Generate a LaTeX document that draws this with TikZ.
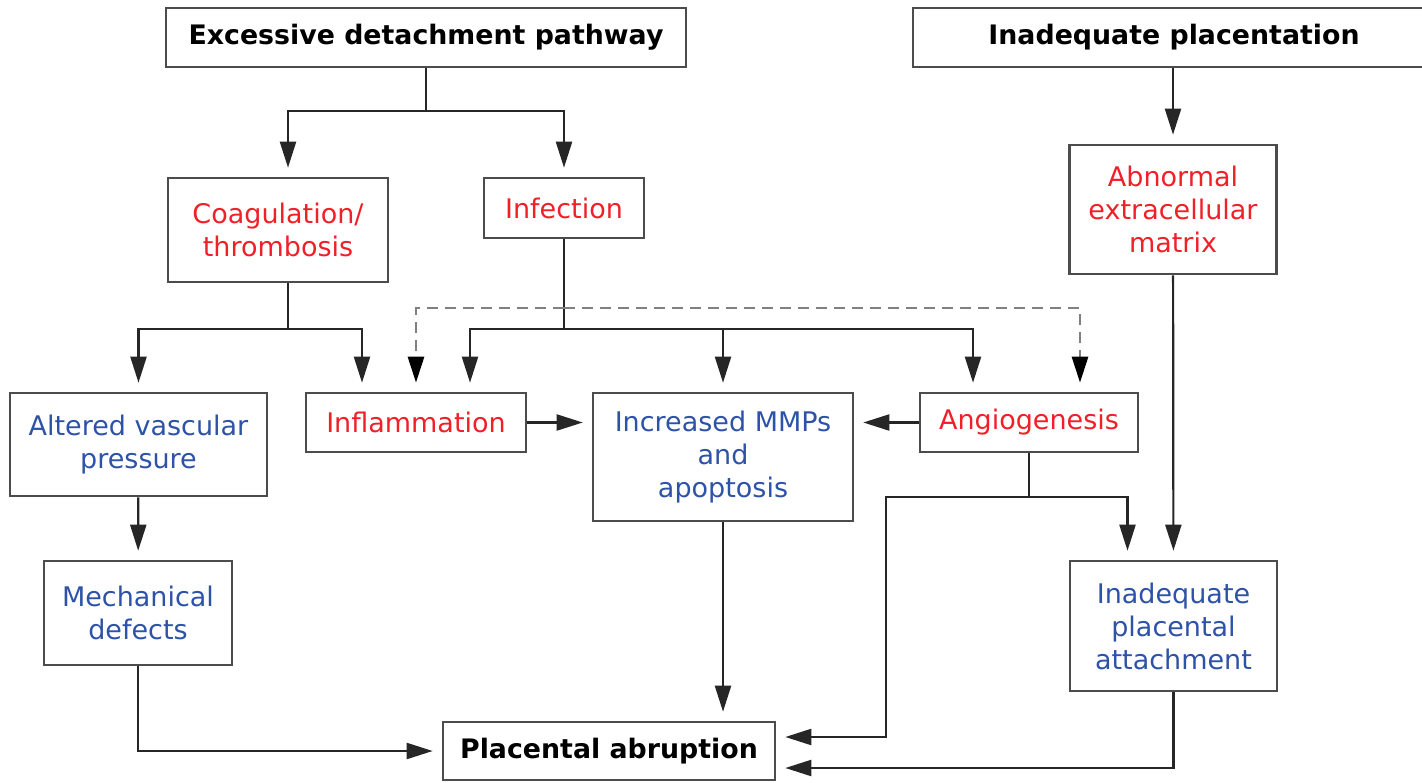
\documentclass[tikz,border=0pt]{standalone}
\usepackage{fontspec}
\setmainfont{DejaVu Sans}
\usetikzlibrary{arrows.meta,calc}
\definecolor{causered}{RGB}{240,32,40}
\definecolor{causeblue}{RGB}{45,82,168}
\tikzset {>={Triangle[length=26pt,width=16pt]},
  box/.style={draw=black!70,line width=2.6pt,align=center,inner sep=0pt,
    font=\fontsize{27}{33}\selectfont},
  head/.style={box,font=\fontsize{26.8}{30}\selectfont\bfseries},
  redtext/.style={text=causered},
  bluetext/.style={text=causeblue},
  link/.style={line width=2.2pt,draw=black!85},
  arr/.style={link,->,shorten >=9pt},
  dasharr/.style={line width=2.8pt,draw=black!50,dash pattern=on 11pt off 7pt,
    -{Triangle[length=26pt,width=16pt,black]},shorten >=9pt}}

\begin{document}
\begin{tikzpicture}[x=1pt,y=-1pt]
\useasboundingbox (0,0) rectangle (1422,782);
\clip (0,0) rectangle (1422,782);
% boxes
\node[head,minimum width=520pt,minimum height=59pt] (exc) at (426,37.5)
  {Excessive detachment pathway};
\node[head,minimum width=522pt,minimum height=59pt] (inp) at (1174,37.5)
  {Inadequate placentation};
\node[box,redtext,minimum width=220pt,minimum height=104pt] (coag) at (278,230)
  {Coagulation/\\thrombosis};
\node[box,redtext,minimum width=160pt,minimum height=60pt] (inf) at (564,208)
  {Infection};
\node[box,redtext,minimum width=207pt,minimum height=129pt] (abn) at (1173,209.5)
  {Abnormal\\extracellular\\matrix};
\node[box,bluetext,minimum width=257pt,minimum height=103pt] (alt) at (138.5,444.5)
  {Altered vascular\\pressure};
\node[box,redtext,minimum width=220pt,minimum height=59pt] (infl) at (416,422.5)
  {Inflammation};
\node[box,bluetext,minimum width=260pt,minimum height=128pt] (mmp) at (723,457)
  {Increased MMPs\\and\\apoptosis};
\node[box,redtext,minimum width=218pt,minimum height=59pt] (ang) at (1029,422.5)
  {Angiogenesis};
\node[box,bluetext,minimum width=188pt,minimum height=104pt] (mech) at (138,613)
  {Mechanical\\defects};
\node[box,bluetext,minimum width=207pt,minimum height=130pt] (att) at (1173.5,626)
  {Inadequate\\placental\\attachment};
\node[head,minimum width=332pt,minimum height=58pt] (abr) at (609,751)
  {Placental abruption};
% connectors
\draw[link] (exc.south) -- ++(0,43) coordinate (exc-j);
\draw[arr] (exc-j) -| ([xshift=10pt]coag.north);
\draw[arr] (exc-j) -| (inf.north);
\draw[arr] (inp.south -| abn) -- (abn);
\draw[link] ([xshift=10pt]coag.south) -- ++(0,46) coordinate (coag-j);
\draw[arr] (coag-j) -| (alt.north);
\draw[arr] (coag-j) -| ([xshift=-54pt]infl.north);
\draw[link] (inf.south) -- (inf.south |- coag-j) coordinate (inf-j);
\draw[arr] (inf-j) -| ([xshift=54pt]infl.north);
\draw[arr] (inf-j) -| (mmp.north);
\draw[arr] (inf-j) -| ([xshift=-56pt]ang.north);
\coordinate (dash-j) at (564,308);
\draw[dasharr] (dash-j) -| (infl.north);
\draw[dasharr] (dash-j) -| ([xshift=51pt]ang.north);
\draw[arr] (infl.east) -- (infl.east -| mmp.west);
\draw[arr] (ang.west) -- (ang.west -| mmp.east);
\draw[arr] (alt) -- (mech);
\draw[arr] (mech.south) |- (abr.west);
\draw[arr] (mmp.south) -- (mmp.south |- abr.north);
\draw[link] (ang.south) -- ++(0,44) coordinate (ang-j);
\draw[arr] (ang-j) -| ([xshift=-46pt]att.north);
\draw[arr] (ang-j) -- ++(-143,0) |- ([yshift=14pt]abr.east);
\draw[arr] (abn) -- (att);
\draw[arr] (att.south) |- ([yshift=-17pt]abr.east);
\end{tikzpicture}
\end{document}
